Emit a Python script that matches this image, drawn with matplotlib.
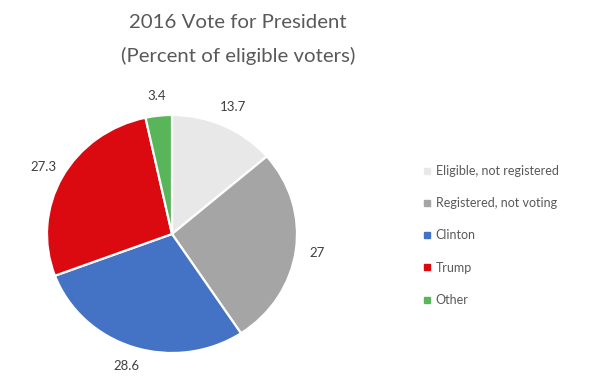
import matplotlib
matplotlib.use("Agg")
import matplotlib.pyplot as plt
from matplotlib.lines import Line2D

categories = ["Eligible, not registered", "Registered, not voting", "Clinton", "Trump", "Other"]
values = [13.7, 27, 28.6, 27.3, 3.4]
value_labels = ["13.7", "27", "28.6", "27.3", "3.4"]
colors = ["#E8E8E8", "#A5A5A5", "#4472C4", "#DA0A10", "#59B55A"]

plt.rcParams['font.family'] = ['Lato', 'DejaVu Sans']

W, H = 600, 376
fig = plt.figure(figsize=(W / 100, H / 100), dpi=100)
fig.patch.set_facecolor("white")

cx, cy, rx, ry = 172, 234, 125, 119
ax = fig.add_axes([(cx - rx) / W, (H - cy - ry) / H, 2 * rx / W, 2 * ry / H])

wedges, texts = ax.pie(values, labels=value_labels, colors=colors, startangle=90,
                       counterclock=False, radius=1, labeldistance=1.17,
                       wedgeprops=dict(edgecolor="white", linewidth=1.6),
                       textprops=dict(color="#404040", fontsize=9.5))
ax.set_aspect("auto")
ax.set_xlim(-1, 1)
ax.set_ylim(-1, 1)
ax.axis("off")
for t in texts:
    t.set_ha("center")
    t.set_va("center")

fig.text(238 / W, 1 - 23 / H, "2016 Vote for President", ha="center", va="center",
         fontsize=14.7, color="#595959")
fig.text(238 / W, 1 - 56 / H, "(Percent of eligible voters)", ha="center", va="center",
         fontsize=14.7, color="#595959")

handles = [Line2D([0], [0], marker="s", linestyle="none", markersize=5,
                  markerfacecolor=c, markeredgecolor=c) for c in colors]
leg = fig.legend(handles, categories, loc="upper left",
                 bbox_to_anchor=(418 / W, 1 - 160 / H), frameon=False,
                 fontsize=9, labelcolor="#595959", handlelength=0.6,
                 handletextpad=0.4, labelspacing=1.62, borderaxespad=0)

fig.savefig("out.png", dpi=100, facecolor="white")
